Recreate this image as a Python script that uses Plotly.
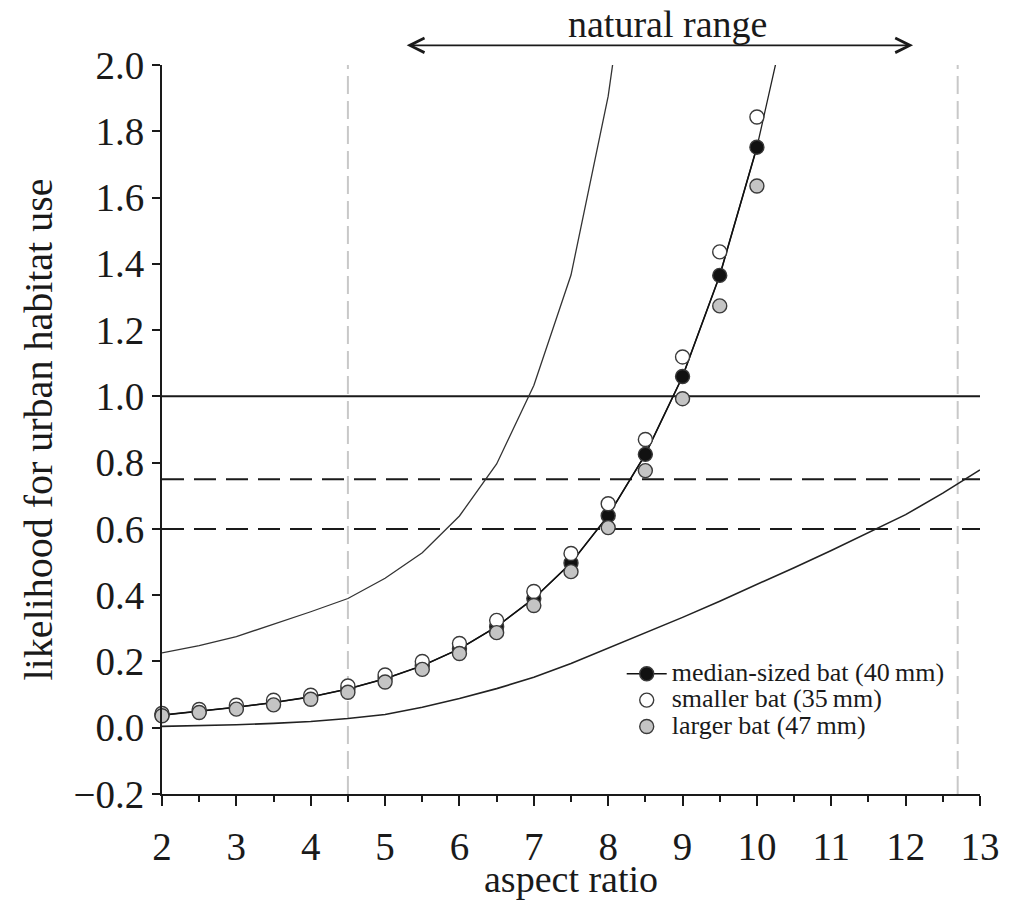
import plotly.graph_objects as go

# ---------------- data ----------------
aspect_pts = [2, 2.5, 3, 3.5, 4, 4.5, 5, 5.5, 6, 6.5, 7, 7.5, 8, 8.5, 9, 9.5, 10]
median_bat = [0.038, 0.049, 0.062, 0.076, 0.093, 0.117, 0.148, 0.187, 0.238, 0.305,
              0.39, 0.497, 0.64, 0.825, 1.06, 1.365, 1.752]
smaller_bat = [0.043, 0.055, 0.068, 0.083, 0.098, 0.126, 0.159, 0.2, 0.254, 0.324,
               0.411, 0.526, 0.676, 0.87, 1.119, 1.436, 1.843]
larger_bat = [0.036, 0.046, 0.056, 0.069, 0.086, 0.107, 0.138, 0.176, 0.224, 0.287,
              0.369, 0.471, 0.604, 0.776, 0.993, 1.273, 1.635]

fit_x = [2, 2.5, 3, 3.5, 4, 4.5, 5, 5.5, 6, 6.5, 7, 7.5, 8, 8.5, 9, 9.5, 10, 10.5]
median_fit = [0.038, 0.049, 0.062, 0.076, 0.093, 0.117, 0.148, 0.187, 0.238, 0.305,
              0.39, 0.497, 0.64, 0.825, 1.06, 1.365, 1.752, 2.25]

upper_x = [2, 2.5, 3, 3.5, 4, 4.5, 5, 5.5, 6, 6.5, 7, 7.5, 8, 8.5]
upper_ci = [0.226, 0.248, 0.275, 0.312, 0.35, 0.39, 0.451, 0.528, 0.639, 0.796,
            1.033, 1.366, 1.906, 2.7]

lower_x = [2, 2.5, 3, 3.5, 4, 4.5, 5, 5.5, 6, 6.5, 7, 7.5, 8, 8.5, 9, 9.5, 10,
           10.5, 11, 11.5, 12, 12.5, 13]
lower_ci = [0.004, 0.006, 0.009, 0.013, 0.019, 0.028, 0.04, 0.062, 0.088, 0.118,
            0.152, 0.194, 0.24, 0.286, 0.333, 0.382, 0.432, 0.483, 0.535, 0.588,
            0.643, 0.708, 0.778]

solid_threshold = [1.0]
dashed_thresholds = [0.75, 0.6]
natural_range = [4.5, 12.7]          # grey dashed verticals
arrow_range = [5.27, 12.1]           # "natural range" arrow
x_ticks = list(range(2, 14))
y_ticks = [-0.2, 0.0, 0.2, 0.4, 0.6, 0.8, 1.0, 1.2, 1.4, 1.6, 1.8, 2.0]
y_labels = ["\u22120.2"] + [f"{v:.1f}" for v in y_ticks[1:]]

FONT = "Liberation Serif, Times New Roman, serif"
INK = "#1a1a1a"

fig = go.Figure()

# confidence curves and fit
fig.add_trace(go.Scatter(x=upper_x, y=upper_ci, mode="lines",
                         line=dict(color="#333333", width=1.3), showlegend=False))
fig.add_trace(go.Scatter(x=lower_x, y=lower_ci, mode="lines",
                         line=dict(color="#222222", width=1.6), showlegend=False))
fig.add_trace(go.Scatter(x=fit_x, y=median_fit, mode="lines",
                         line=dict(color="#222222", width=1.3), showlegend=False))

mk_line = dict(color="#3a3a3a", width=1.4)
legend_span = "<span style='font-size:26px'>{}</span>"
fig.add_trace(go.Scatter(x=aspect_pts, y=median_bat, mode="lines+markers",
                         name=legend_span.format("median-sized bat (40\u2009mm)"),
                         line=dict(color="#111111", width=1.6),
                         marker=dict(size=14, color="#111111", line=mk_line),
                         cliponaxis=False))
fig.add_trace(go.Scatter(x=aspect_pts, y=smaller_bat, mode="markers",
                         name=legend_span.format("smaller bat (35\u2009mm)"),
                         marker=dict(size=14, color="white", line=mk_line),
                         cliponaxis=False))
fig.add_trace(go.Scatter(x=aspect_pts, y=larger_bat, mode="markers",
                         name=legend_span.format("larger bat (47\u2009mm)"),
                         marker=dict(size=14, color="#c4c4c4", line=mk_line),
                         cliponaxis=False))

shapes = []
for v in solid_threshold:
    shapes.append(dict(type="line", xref="x", yref="y", x0=2, x1=13, y0=v, y1=v,
                       line=dict(color="#1a1a1a", width=2), layer="below"))
for v in dashed_thresholds:
    shapes.append(dict(type="line", xref="x", yref="y", x0=2, x1=13, y0=v, y1=v,
                       line=dict(color="#1a1a1a", width=2, dash="22px,10px"),
                       layer="below"))
for v in natural_range:
    shapes.append(dict(type="line", xref="x", yref="y", x0=v, x1=v, y0=-0.2, y1=2.0,
                       line=dict(color="#c8c8c8", width=2, dash="18px,7px"),
                       layer="below"))

annotations = [
    dict(x=arrow_range[1], y=1.027, xref="x", yref="paper",
         ax=arrow_range[0], ay=0, axref="x", ayref="pixel",
         text="", showarrow=True, arrowhead=5, startarrowhead=5,
         arrowside="end+start", arrowsize=1.6, startarrowsize=1.6,
         arrowwidth=1.8, arrowcolor=INK),
    dict(x=8.8, y=1.056, xref="x", yref="paper", text="natural range",
         showarrow=False, font=dict(family=FONT, size=38, color=INK),
         xanchor="center", yanchor="middle"),
    # x-axis title
    dict(x=0.5, y=-0.116, xref="paper", yref="paper", text="aspect ratio",
         showarrow=False, font=dict(family=FONT, size=38, color=INK),
         xanchor="center", yanchor="middle"),
]

# the page body adds an 8 px offset; margins are set so the plot area lands
# at x 162-980 and y 65-794 in the screenshot
fig.update_layout(
    width=1025, height=901,
    margin=dict(l=154, r=53, t=57, b=115, autoexpand=False),
    paper_bgcolor="white", plot_bgcolor="white",
    font=dict(family=FONT, color=INK),
    shapes=shapes, annotations=annotations,
    showlegend=True,
    legend=dict(x=0.562, y=0.19, xanchor="left", yanchor="top",
                font=dict(family=FONT, size=18, color=INK),
                bgcolor="rgba(0,0,0,0)", borderwidth=0,
                itemwidth=40, tracegroupgap=0),
)
fig.update_xaxes(range=[2, 13], showgrid=False, zeroline=False,
                 showline=True, linecolor=INK, linewidth=2,
                 tickmode="array", tickvals=x_ticks,
                 ticks="outside", ticklen=10, tickwidth=2, tickcolor=INK,
                 ticklabelstandoff=7,
                 minor=dict(dtick=0.5, tick0=2, ticks="outside", ticklen=6,
                            tickwidth=2, tickcolor=INK),
                 tickfont=dict(family=FONT, size=39, color=INK))
fig.update_yaxes(range=[-0.2, 2.0], showgrid=False, zeroline=False,
                 showline=True, linecolor=INK, linewidth=2,
                 tickmode="array", tickvals=y_ticks, ticktext=y_labels,
                 ticks="outside", ticklen=8, tickwidth=2, tickcolor=INK,
                 tickfont=dict(family=FONT, size=39, color=INK),
                 title=dict(text="likelihood for urban habitat use",
                            font=dict(family=FONT, size=40, color=INK), standoff=8))

fig.write_html("out.html")
